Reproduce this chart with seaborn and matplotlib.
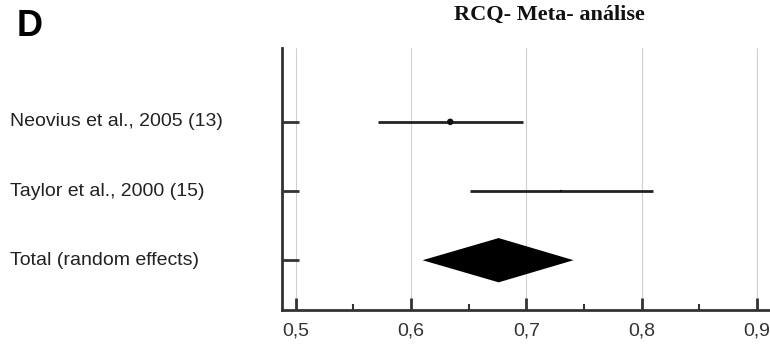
import matplotlib
matplotlib.use("Agg")
import matplotlib.pyplot as plt
import matplotlib.transforms as mtransforms
from matplotlib.ticker import MultipleLocator, FuncFormatter
import seaborn as sns
import pandas as pd
import numpy as np

studies = ["Neovius et al., 2005 (13)", "Taylor et al., 2000 (15)"]
study_est = [0.634, 0.730]
study_lo = [0.571, 0.651]
study_hi = [0.697, 0.810]
study_size = [22, 3]

total_label = "Total (random effects)"
total_est = 0.676
total_lo = 0.610
total_hi = 0.741

xticks = [0.5, 0.6, 0.7, 0.8, 0.9]

sns.set_theme(style="white")
plt.rcParams["font.family"] = ["Liberation Sans", "DejaVu Sans"]

fig = plt.figure(figsize=(7.7, 3.45), dpi=100)
ax = fig.add_axes([282 / 770, 0.1014, 488 / 770, 0.76])

rows = list(range(len(studies) + 1))
df = pd.DataFrame({"study": studies, "est": study_est, "lo": study_lo,
                   "hi": study_hi, "size": study_size, "y": rows[:len(studies)]})

for xt in xticks:
    ax.axvline(xt, color="#d0d0d0", lw=0.8, zorder=0)

ax.hlines(df["y"], df["lo"], df["hi"], color="#222222", lw=2.0, zorder=2)
sns.scatterplot(data=df, x="est", y="y", size="size", sizes=(3, 22),
                color="#111111", edgecolor="none", legend=False, ax=ax, zorder=3)

ty = rows[-1]
h = 0.32
ax.fill([total_lo, total_est, total_hi, total_est],
        [ty, ty - h, ty, ty + h], color="black", zorder=3, lw=0)

ax.set_xlim(0.488, 0.9115)
ax.set_ylim(2.72, -1.07)

ax.xaxis.set_minor_locator(MultipleLocator(0.05))
ax.set_xticks(xticks)
ax.xaxis.set_major_formatter(FuncFormatter(lambda v, p: f"{v:.1f}".replace(".", ",")))
ax.tick_params(axis="x", which="major", direction="in", length=9, width=2,
               color="#333333", labelsize=14, labelcolor="#333333", pad=9,
               bottom=True)
ax.tick_params(axis="x", which="minor", direction="in", length=4, width=1.5,
               color="#333333", bottom=True)
ax.set_yticks(rows)
ax.set_yticklabels([])
ax.tick_params(axis="y", which="major", direction="in", length=12, width=2,
               color="#333333", left=True)

for s in ["top", "right"]:
    ax.spines[s].set_visible(False)
for s in ["left", "bottom"]:
    ax.spines[s].set_color("#333333")
    ax.spines[s].set_linewidth(2)

ax.set_xlabel("")
ax.set_ylabel("")

trans = mtransforms.blended_transform_factory(fig.transFigure, ax.transData)
for lab, y in zip(studies + [total_label], rows):
    ax.text(10 / 770, y, lab, transform=trans, ha="left", va="center",
            fontsize=14, color="#222222", clip_on=False)

fig.text(549 / 770, 1 - 15 / 345, "RCQ- Meta- análise", ha="center", va="center",
         fontsize=16, fontweight="bold", family=["Liberation Serif", "DejaVu Serif"],
         color="#111111")
fig.text(17 / 770, 1 - 26 / 345, "D", ha="left", va="center", fontsize=26,
         fontweight="bold", color="black")

fig.savefig("out.png", dpi=100)
